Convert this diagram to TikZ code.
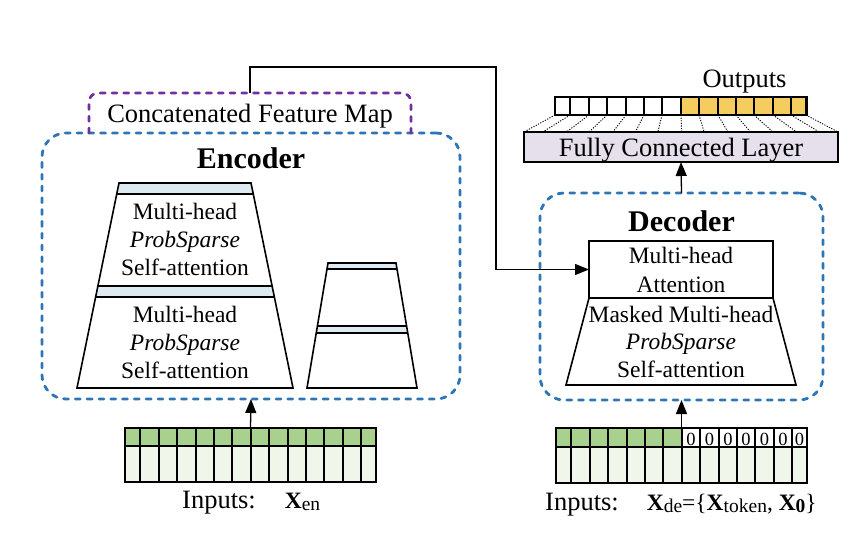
\documentclass[tikz,border=0pt]{standalone}
\usepackage{fontspec}
\setmainfont{Liberation Serif}
\usetikzlibrary{arrows.meta}
\definecolor{encblue}{HTML}{2E75B6}
\definecolor{cpurple}{HTML}{7030A0}
\definecolor{bandblue}{HTML}{DEEAF1}
\definecolor{ingreen}{HTML}{A9D18E}
\definecolor{inlight}{HTML}{F1F6EA}
\definecolor{outyellow}{HTML}{F5CD5F}
\definecolor{fclav}{HTML}{E6E0EC}
\newcommand{\bodyfont}{\fontsize{23.5}{28}\selectfont}
\newcommand{\labfont}{\fontsize{26.5}{30}\selectfont}
\newcommand{\headfont}{\fontsize{30}{34}\selectfont\bfseries}
\newcommand{\xfont}{\fontsize{23.5}{26}\selectfont}
\newcommand{\zerofont}{\fontsize{18.5}{20}\selectfont}
\newcommand{\subs}[1]{\raisebox{-2pt}{\fontsize{19.5}{20}\selectfont #1}}
\def\offs{0,15,34,52,71,89,107,126,144,163,181,199,218,236,251}
\begin{document}
\begin{tikzpicture}[x=1pt,y=-1pt,
  txt/.style={inner sep=0pt, anchor=base},
  encbox/.style={draw=encblue, line width=2.8pt, line cap=round, dash pattern=on 5pt off 6.8pt, rounded corners=24pt},
  cfmbox/.style={draw=cpurple, line width=2.8pt, line cap=round, dash pattern=on 5pt off 6.8pt, rounded corners=9pt},
  arr/.style={line width=1.3pt, -{Triangle[length=14pt,width=11pt]}},
  edgeline/.style={line width=1.6pt, line join=miter},
  cellgrid/.style={line width=1.8pt},
  dotline/.style={line width=0.9pt, dash pattern=on 1.2pt off 1.4pt},
  holder/.style={inner sep=0pt, outer sep=0pt, anchor=north west},
]
\useasboundingbox (0,0) rectangle (856,544);

% ---------- Encoder box ----------
\node[holder, encbox, minimum width=418pt, minimum height=266pt] (enc) at (42,133) {};

% ---------- Concatenated feature map ----------
\node[holder, minimum width=322pt, minimum height=40pt] (cfm) at (89,93) {};
\draw[cfmbox] (cfm.south west) -- (cfm.north west) -- (cfm.north east) -- (cfm.south east);
\node[txt, font=\labfont] (cfmlab) at (250,122) {Concatenated Feature Map};

\node[txt, font=\headfont] (enclab) at (251,168) {Encoder};

% big encoder stack
\fill[bandblue] (119,183) -- (251,183) -- (253.3,194) -- (116.7,194) -- cycle;
\fill[bandblue] (97.9,286) -- (272.1,286) -- (274.4,297) -- (95.6,297) -- cycle;
\draw[edgeline] (119,183) -- (251,183) -- (293,388) -- (77,388) -- cycle;
\draw[edgeline] (116.7,194) -- (253.3,194);
\draw[edgeline] (97.9,286) -- (272.1,286);
\draw[edgeline] (95.6,297) -- (274.4,297);
\node[txt, font=\bodyfont] (e1a) at (185,219) {Multi-head};
\node[txt, font=\bodyfont] (e1b) at (185,247) {\textit{ProbSparse}};
\node[txt, font=\bodyfont] (e1c) at (185,275) {Self-attention};
\node[txt, font=\bodyfont] (e2a) at (185,322) {Multi-head};
\node[txt, font=\bodyfont] (e2b) at (185,350) {\textit{ProbSparse}};
\node[txt, font=\bodyfont] (e2c) at (185,378) {Self-attention};

% small encoder stack
\fill[bandblue] (328,263) -- (396,263) -- (397,269) -- (327,269) -- cycle;
\fill[bandblue] (317.4,326) -- (406.6,326) -- (407.8,333) -- (316.2,333) -- cycle;
\draw[edgeline] (328,263) -- (396,263) -- (417,388) -- (307,388) -- cycle;
\draw[edgeline] (327,269) -- (397,269);
\draw[edgeline] (317.4,326) -- (406.6,326);
\draw[edgeline] (316.2,333) -- (407.8,333);

% ---------- Encoder inputs ----------
\node[holder, minimum width=251pt, minimum height=54pt] (encin) at (125,428) {};
\fill[ingreen] (125,428) rectangle (376,446);
\fill[inlight] (125,446) rectangle (376,482);
\foreach \o in \offs {\draw[cellgrid] (125+\o,428) -- (125+\o,482);}
\draw[cellgrid] (125,428) rectangle (376,482);
\draw[cellgrid] (125,446) -- (376,446);
\node[txt, anchor=base west, font=\labfont] (encinlab) at (182,508)
  {Inputs:\hspace{29pt}{\xfont\textbf{X}\subs{en}}};
\draw[arr] (encin.north) -- (enc.south);

% ---------- Decoder box ----------
\node[holder, encbox, minimum width=283pt, minimum height=207pt] (dec) at (540,193) {};
\node[txt, font=\headfont] (declab) at (681.5,231) {Decoder};
\node[holder, draw, edgeline, fill=white, minimum width=184pt, minimum height=57pt] (mha) at (589,241) {};
\coordinate (mbl) at (566,385);
\coordinate (mbr) at (796,385);
\draw[edgeline] (mha.south west) -- (mbl) -- (mbr) -- (mha.south east);
\node[txt, font=\bodyfont] (d1a) at (681,263) {Multi-head};
\node[txt, font=\bodyfont] (d1b) at (681,292) {Attention};
\node[txt, font=\bodyfont] (d2a) at (681,322) {Masked Multi-head};
\node[txt, font=\bodyfont] (d2b) at (681,349) {\textit{ProbSparse}};
\node[txt, font=\bodyfont] (d2c) at (681,377) {Self-attention};

% ---------- Decoder inputs ----------
\node[holder, minimum width=251pt, minimum height=55pt] (decin) at (556,428) {};
\fill[ingreen] (556,428) rectangle (682,447);
\fill[white] (682,428) rectangle (807,447);
\fill[inlight] (556,447) rectangle (807,483);
\foreach \o in \offs {\draw[cellgrid] (556+\o,428) -- (556+\o,483);}
\draw[cellgrid] (556,428) rectangle (807,483);
\draw[cellgrid] (556,447) -- (807,447);
\foreach \c [count=\k] in {691,709.5,728,746,764.5,783,799.5}
  {\node[txt, font=\zerofont] (zero\k) at (\c,445) {0};}
\node[txt, anchor=base west, font=\labfont] (decinlab) at (545,510)
  {Inputs:\hspace{28pt}{\xfont\textbf{X}\subs{de}=\{\textbf{X}\subs{token}, \textbf{X}\subs{\textbf{0}}\}}};
\draw[arr] (decin.north) -- (dec.south);

% ---------- Fully connected layer and outputs ----------
\node[holder, draw, edgeline, fill=fclav, minimum width=314pt, minimum height=30pt,
      text height=24pt, text depth=6pt, font=\labfont] (fc) at (524,132) {Fully Connected Layer};
\draw[arr] (dec.north) -- (fc.south);

\node[holder, minimum width=252pt, minimum height=18pt] (outarr) at (555,97) {};
\fill[white] (555,97) rectangle (681,115);
\fill[outyellow] (681,97) rectangle (807,115);
\foreach \o in \offs {\draw[cellgrid] (555+\o,97) -- (555+\o,115);}
\draw[cellgrid] (555,97) rectangle (807,115);
\foreach \o in \offs {\draw[dotline] (555+\o,115) -- ({524+\o*1.251},132);}
\node[txt, font=\labfont] (outlab) at (744.5,87) {Outputs};

% ---------- Connector from feature map to decoder attention ----------
\coordinate (turn) at (496,67);
\draw[arr] (cfm.north) |- (turn) |- (mha.west);
\end{tikzpicture}
\end{document}
